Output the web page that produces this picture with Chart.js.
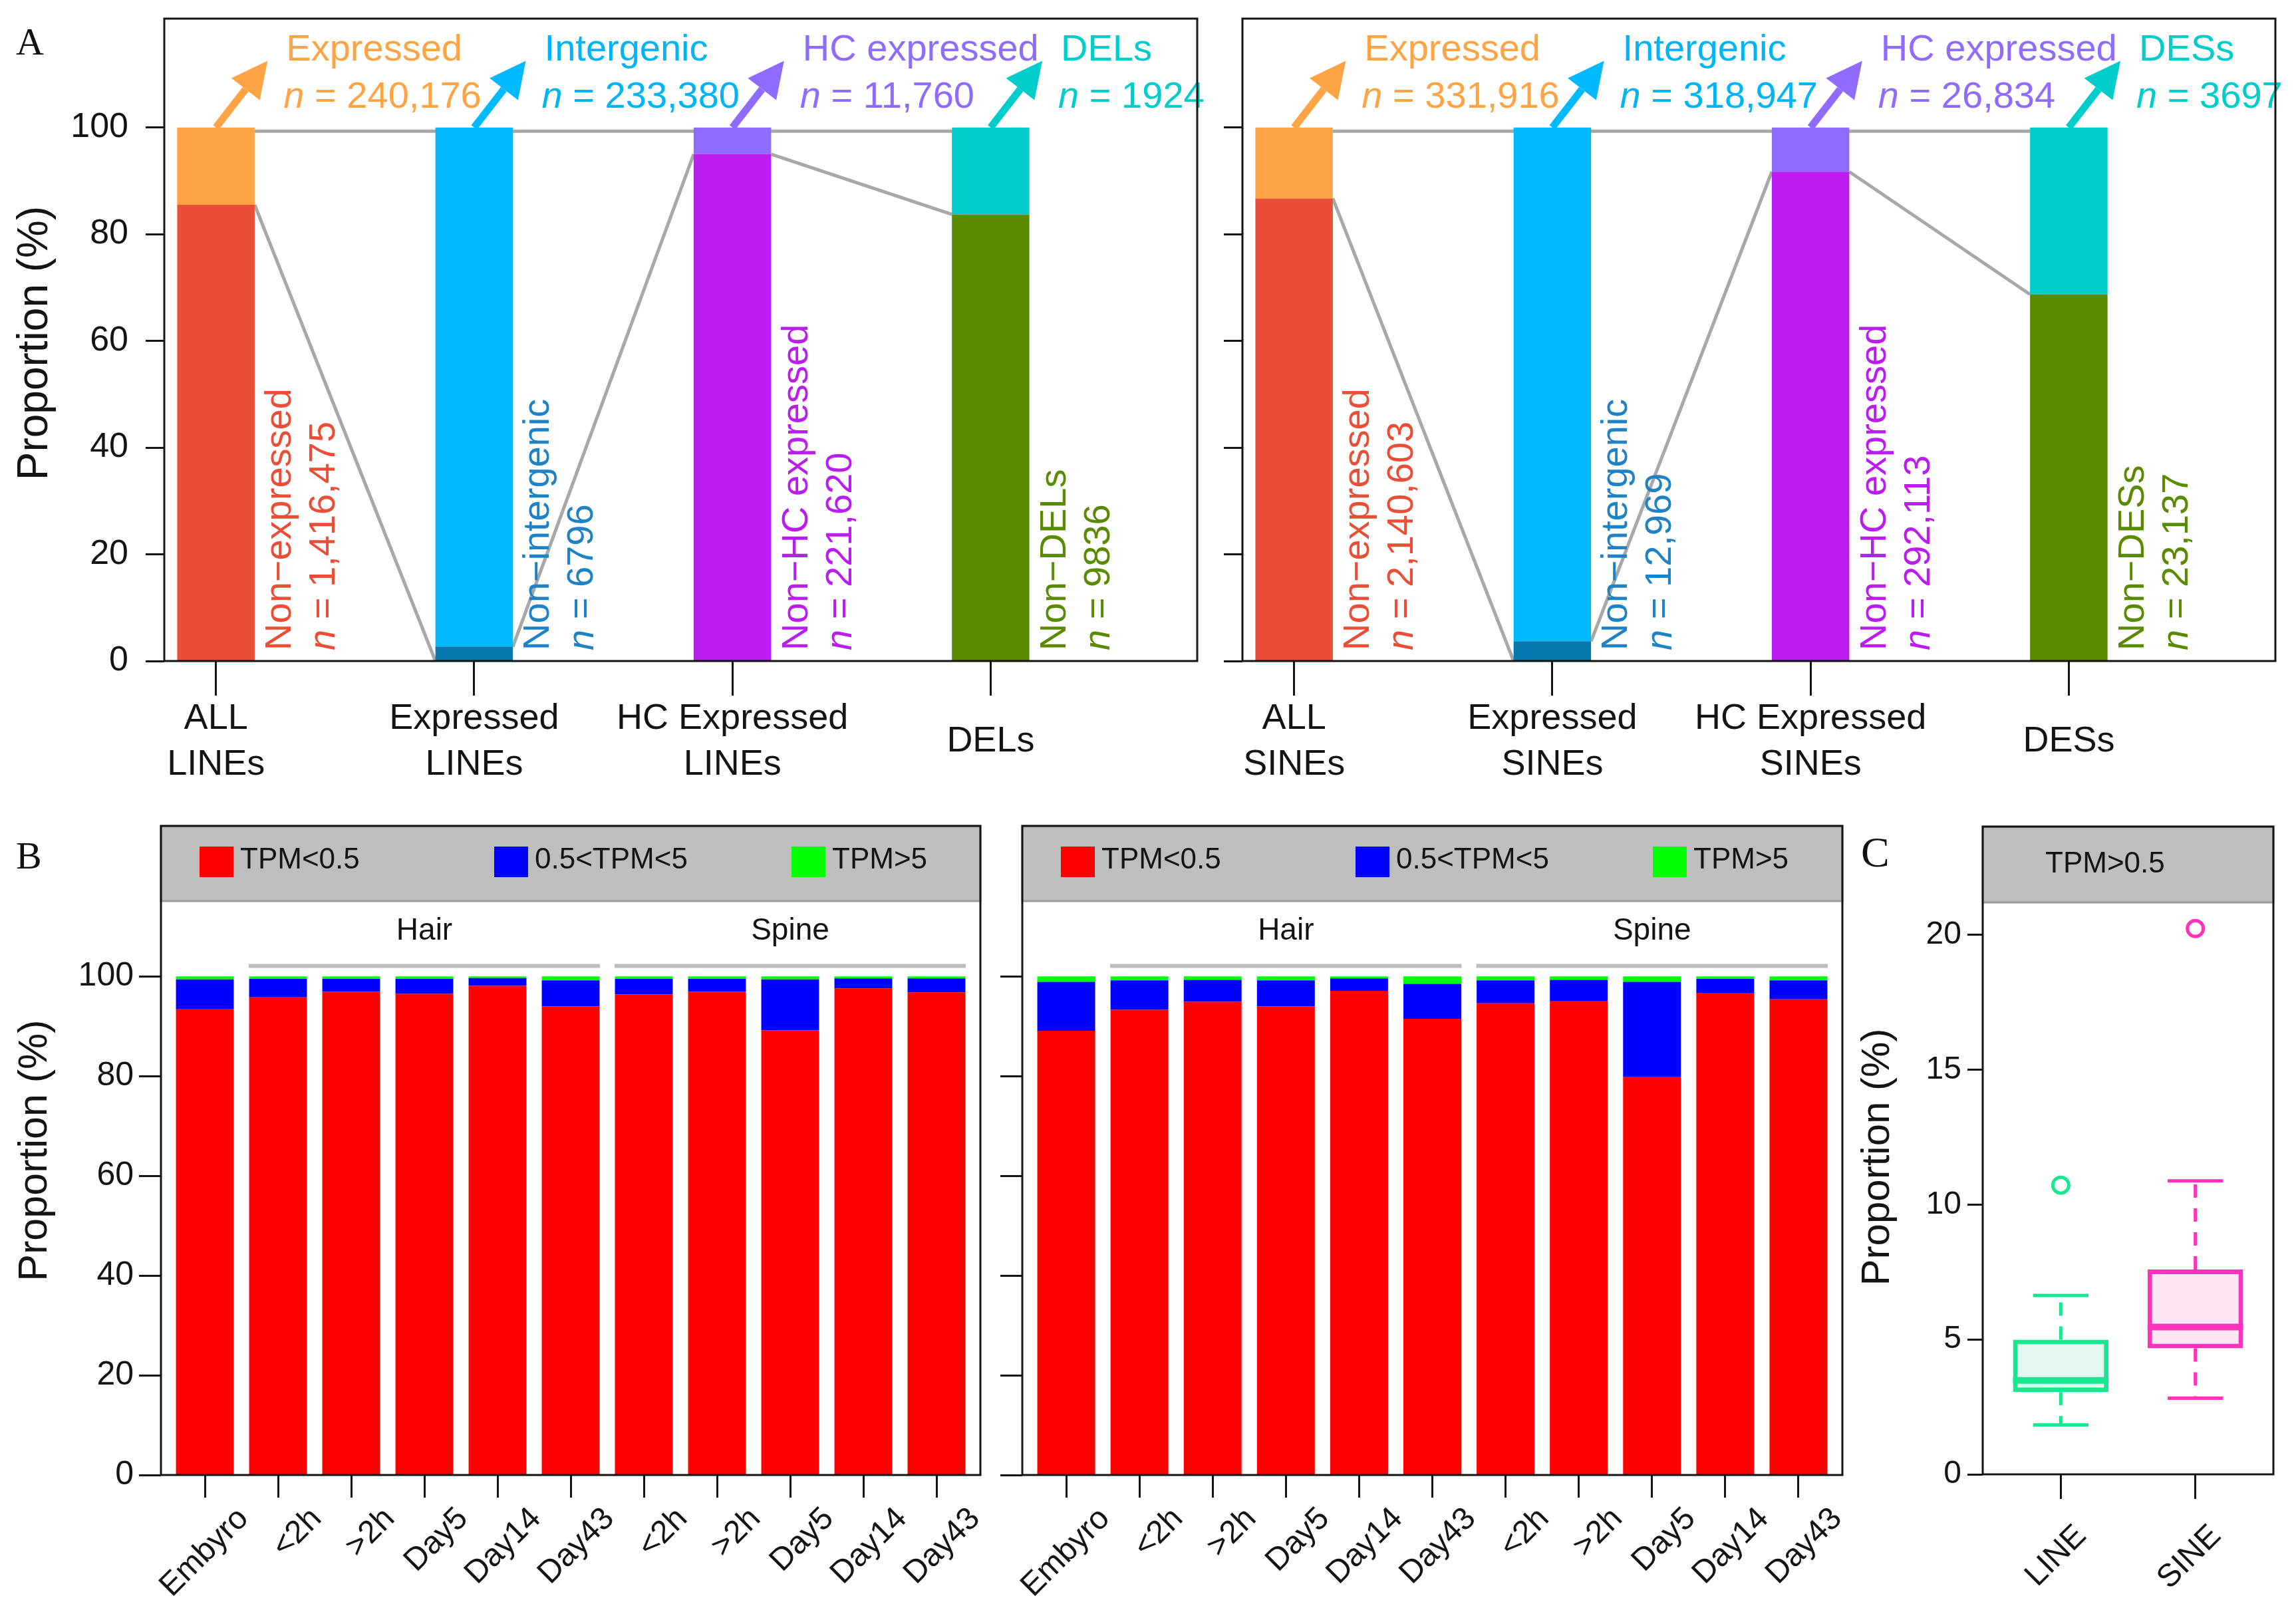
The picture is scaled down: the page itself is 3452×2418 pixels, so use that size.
<!DOCTYPE html>
<html>
<head>
<meta charset="utf-8">
<title>LINE / SINE expression</title>
<script src="https://cdn.jsdelivr.net/npm/chart.js@4.4.1/dist/chart.umd.min.js"></script>
<style>
  html, body { margin: 0; padding: 0; background: #fff; }
  body { width: 3452px; height: 2418px; position: relative; overflow: hidden; }
  canvas { position: absolute; }
  .tag { position: absolute; font-family: 'Liberation Serif', 'DejaVu Serif', serif; color: #111; line-height: 1; }
</style>
</head>
<body>
<canvas id="a-line" style="left:0;top:0" width="1830" height="1200"></canvas>
<canvas id="a-sine" style="left:1830px;top:0" width="1622" height="1200"></canvas>
<canvas id="b-line" style="left:0;top:1200px" width="1500" height="1218"></canvas>
<canvas id="b-sine" style="left:1500px;top:1200px" width="1330" height="1218"></canvas>
<canvas id="c-box" style="left:2780px;top:1200px" width="672" height="1218"></canvas>
<div class="tag" style="left:24px;top:34px;font-size:58px">A</div>
<div class="tag" style="left:24px;top:1258px;font-size:58px">B</div>
<div class="tag" style="left:2798px;top:1250px;font-size:64px">C</div>
<script>
// ---- Panel A : LINEs
const lineStages = [['ALL', 'LINEs'], ['Expressed', 'LINEs'], ['HC Expressed', 'LINEs'], ['DELs']];
const lineLowerPct = [85.5, 2.7, 95.0, 83.7];
const lineLinkTo = [0, 95.0, 83.7];
const lineUpperNames = ['Expressed', 'Intergenic', 'HC expressed', 'DELs'];
const lineUpperCounts = ['240,176', '233,380', '11,760', '1924'];
const lineLowerNames = ['Non−expressed', 'Non−intergenic', 'Non−HC expressed', 'Non−DELs'];
const lineLowerCounts = ['1,416,475', '6796', '221,620', '9836'];

// ---- Panel A : SINEs
const sineStages = [['ALL', 'SINEs'], ['Expressed', 'SINEs'], ['HC Expressed', 'SINEs'], ['DESs']];
const sineLowerPct = [86.7, 3.7, 91.7, 68.7];
const sineLinkTo = [0, 91.7, 68.7];
const sineUpperNames = ['Expressed', 'Intergenic', 'HC expressed', 'DESs'];
const sineUpperCounts = ['331,916', '318,947', '26,834', '3697'];
const sineLowerNames = ['Non−expressed', 'Non−intergenic', 'Non−HC expressed', 'Non−DESs'];
const sineLowerCounts = ['2,140,603', '12,969', '292,113', '23,137'];

const stageTicks = [0, 20, 40, 60, 80, 100];
const topLinkPct = 99.3;

// ---- Panel B : TPM classes per sample
const tpmSamples = ['Embyro', '<2h', '>2h', 'Day5', 'Day14', 'Day43', '<2h', '>2h', 'Day5', 'Day14', 'Day43'];
const tpmBins = ['TPM<0.5', '0.5<TPM<5', 'TPM>5'];
const tpmGroups = ['Hair', 'Spine'];
const tpmGroupSpan = [[1, 5], [6, 10]];
const lineTpmLow  = [93.4, 95.8, 96.9, 96.5, 98.1, 94.0, 96.4, 96.9, 89.2, 97.6, 96.8];
const lineTpmMid  = [6.0, 3.7, 2.6, 3.0, 1.55, 5.2, 3.1, 2.6, 10.2, 2.0, 2.8];
const lineTpmHigh = [0.6, 0.5, 0.5, 0.5, 0.35, 0.8, 0.5, 0.5, 0.6, 0.4, 0.4];
const sineTpmLow  = [89.1, 93.3, 94.9, 94.0, 97.1, 91.5, 94.6, 95.1, 79.8, 96.7, 95.4];
const sineTpmMid  = [9.8, 5.9, 4.4, 5.2, 2.5, 7.0, 4.6, 4.2, 19.1, 2.8, 3.8];
const sineTpmHigh = [1.1, 0.8, 0.7, 0.8, 0.4, 1.5, 0.8, 0.7, 1.1, 0.5, 0.8];

// ---- Panel C : TPM>0.5 proportion
const boxGroups = ['LINE', 'SINE'];
const boxLow    = [1.83, 2.82];
const boxQ1     = [3.05, 4.67];
const boxMedian = [3.48, 5.46];
const boxQ3     = [4.99, 7.59];
const boxHigh   = [6.63, 10.88];
const boxOutliers = [[10.72], [20.23]];
const boxTicks = [0, 5, 10, 15, 20];

// ---- styles
const FAMILY = "'Liberation Sans', Arial, Helvetica, sans-serif";
const INK = '#141414';
const LINK_GREY = '#a8a8a8';
const STRIP_FILL = '#bebebe';
const yTitle = 'Proportion (%)';
const stageLowerColors = ['#ea4e36', '#0779ae', '#bb1cf0', '#5a8a00'];
const stageUpperColors = ['#ffa444', '#00b9ff', '#8f6cff', '#00cccc'];
const stageUpperText = ['#ffa444', '#00b4f5', '#8f6cff', '#00cccc'];
const stageLowerText = ['#ea4e36', '#1e82c4', '#bb1cf0', '#5a8a00'];
const tpmColors = ['#ff0000', '#0000ff', '#00ff00'];
const boxEdge = ['#19e68f', '#ff33bb'];
const boxFill = ['#e3f9ef', '#ffe6f5'];

Chart.defaults.font.family = FAMILY;
Chart.defaults.color = INK;

function tickGrid(len) {
  return { offset: false, drawOnChartArea: false, drawTicks: true, tickLength: len, tickWidth: 3, tickColor: INK };
}
function fixWidth(w) {
  return s => { s.width = w; s.paddingTop = 0; s.paddingBottom = 0; };
}
function fixHeight(h) {
  return s => { s.height = h; s.paddingLeft = 0; s.paddingRight = 0; };
}
function tickAt(values) {
  return s => { s.ticks = values.map(v => ({ value: v })); };
}
function drawYTitle(ctx, t) {
  ctx.save();
  ctx.translate(t.x, t.y);
  ctx.rotate(-Math.PI / 2);
  ctx.font = `${t.size}px ${FAMILY}`;
  ctx.fillStyle = INK;
  ctx.textAlign = 'center';
  ctx.textBaseline = 'middle';
  ctx.fillText(yTitle, 0, 0);
  ctx.restore();
}
// "n = 1234" with an italic n
function drawCount(ctx, count, x, y, size) {
  ctx.font = `italic ${size}px ${FAMILY}`;
  ctx.fillText('n', x, y);
  const w = ctx.measureText('n').width;
  ctx.font = `${size}px ${FAMILY}`;
  ctx.fillText(' = ' + count, x + w, y);
}
function drawArrow(ctx, x0, y0, x1, y1, color) {
  const ang = Math.atan2(y1 - y0, x1 - x0);
  const head = 54, half = 27;
  const bx = x1 - head * Math.cos(ang), by = y1 - head * Math.sin(ang);
  ctx.strokeStyle = color;
  ctx.fillStyle = color;
  ctx.lineWidth = 11;
  ctx.beginPath();
  ctx.moveTo(x0, y0);
  ctx.lineTo(bx, by);
  ctx.stroke();
  ctx.beginPath();
  ctx.moveTo(x1, y1);
  ctx.lineTo(bx + half * Math.sin(ang), by - half * Math.cos(ang));
  ctx.lineTo(bx - half * Math.sin(ang), by + half * Math.cos(ang));
  ctx.closePath();
  ctx.fill();
}

// Panel A: gray links, arrows and text around the stacked bars
function stagePlugin(s) {
  return {
    id: 'stageDecor',
    beforeDatasetsDraw(chart) {
      const { ctx, scales: { x, y } } = chart;
      const half = chart.getDatasetMeta(0).data[0].width / 2;
      const n = s.lower.length;
      ctx.save();
      ctx.strokeStyle = LINK_GREY;
      ctx.lineWidth = 5;
      ctx.beginPath();
      ctx.moveTo(x.getPixelForValue(1) + half, y.getPixelForValue(topLinkPct));
      ctx.lineTo(x.getPixelForValue(n) - half, y.getPixelForValue(topLinkPct));
      s.linkTo.forEach((v, i) => {
        ctx.moveTo(x.getPixelForValue(i + 1) + half, y.getPixelForValue(s.lower[i]));
        ctx.lineTo(x.getPixelForValue(i + 2) - half, y.getPixelForValue(v));
      });
      ctx.stroke();
      ctx.restore();
    },
    afterDraw(chart) {
      const { ctx, chartArea: a, scales: { x, y } } = chart;
      ctx.save();
      s.lower.forEach((v, i) => {
        const cx = x.getPixelForValue(i + 1);
        drawArrow(ctx, cx, y.getPixelForValue(100), x.getPixelForValue(i + 1.2), y.getPixelForValue(112.5), stageUpperColors[i]);

        // label above
        ctx.fillStyle = stageUpperText[i];
        ctx.textAlign = 'left';
        ctx.textBaseline = 'alphabetic';
        const lx = x.getPixelForValue(i + 1.262);
        ctx.font = `56px ${FAMILY}`;
        ctx.fillText(s.upperNames[i], lx + 4, y.getPixelForValue(112.5));
        drawCount(ctx, s.upperCounts[i], lx, y.getPixelForValue(103.7), 56);

        // rotated label beside the bar
        ctx.fillStyle = stageLowerText[i];
        ctx.textBaseline = 'middle';
        [[s.lowerNames[i], 0.25], [null, 0.42]].forEach(([txt, off]) => {
          ctx.save();
          ctx.translate(x.getPixelForValue(i + 1 + off), y.getPixelForValue(2.0));
          ctx.rotate(-Math.PI / 2);
          if (txt) {
            ctx.font = `56px ${FAMILY}`;
            ctx.fillText(txt, 0, 0);
          } else {
            drawCount(ctx, s.lowerCounts[i], 0, 0, 56);
          }
          ctx.restore();
        });
      });
      ctx.strokeStyle = INK;
      ctx.lineWidth = 3;
      ctx.strokeRect(a.left, a.top, a.right - a.left, a.bottom - a.top);
      if (s.title) drawYTitle(ctx, s.title);
      ctx.restore();
    }
  };
}

function stageChart(id, s) {
  return new Chart(document.getElementById(id), {
    type: 'bar',
    data: {
      datasets: [
        { data: s.lower.map((v, i) => ({ x: i + 1, y: v })), backgroundColor: stageLowerColors },
        { data: s.lower.map((v, i) => ({ x: i + 1, y: 100 - v })), backgroundColor: stageUpperColors }
      ].map(d => Object.assign(d, { barPercentage: 0.3, categoryPercentage: 1, borderWidth: 0 }))
    },
    options: {
      responsive: false,
      animation: false,
      devicePixelRatio: 1,
      layout: { padding: { top: 28, right: s.padRight, left: 0, bottom: 0 } },
      plugins: { legend: { display: false }, tooltip: { enabled: false } },
      scales: {
        x: {
          type: 'linear', stacked: true, offset: false, min: 0.8, max: 4.8,
          afterBuildTicks: tickAt(s.stages.map((_, i) => i + 1)),
          afterFit: fixHeight(206),
          grid: tickGrid(52), border: { display: false },
          ticks: {
            autoSkip: false, maxRotation: 0, minRotation: 0, crossAlign: 'center',
            padding: 35, color: INK, font: { size: 54, lineHeight: 1.28 },
            callback: v => s.stages[Math.round(v) - 1]
          }
        },
        y: {
          stacked: true, min: 0, max: 120.4,
          afterBuildTicks: tickAt(stageTicks),
          afterFit: fixWidth(s.yWidth),
          grid: tickGrid(28), border: { display: false },
          ticks: { display: s.yLabels, padding: 26, color: INK, font: { size: 52 } }
        }
      }
    },
    plugins: [stagePlugin(s)]
  });
}

// Panel B: strip with legend, group bars, frame
function tpmPlugin(title) {
  const legendOffsets = [58, 501, 948];
  return {
    id: 'tpmDecor',
    afterDraw(chart) {
      const { ctx, chartArea: a, scales: { x, y } } = chart;
      const stripTop = a.top - 113;
      ctx.save();
      ctx.fillStyle = STRIP_FILL;
      ctx.fillRect(a.left, stripTop, a.right - a.left, a.top - stripTop);
      ctx.strokeStyle = '#9c9c9c';
      ctx.lineWidth = 3;
      ctx.strokeRect(a.left, stripTop, a.right - a.left, a.top - stripTop);

      ctx.textAlign = 'left';
      ctx.textBaseline = 'middle';
      chart.data.datasets.forEach((ds, k) => {
        const lx = a.left + legendOffsets[k];
        ctx.fillStyle = ds.backgroundColor;
        ctx.fillRect(lx, stripTop + 31, 51, 46);
        ctx.fillStyle = INK;
        ctx.font = `44px ${FAMILY}`;
        ctx.fillText(ds.label, lx + 61, stripTop + 52);
      });

      tpmGroups.forEach((g, k) => {
        const [i0, i1] = tpmGroupSpan[k];
        const yl = y.getPixelForValue(102.1);
        ctx.strokeStyle = '#bdbdbd';
        ctx.lineWidth = 6;
        ctx.beginPath();
        ctx.moveTo(x.getPixelForValue(i0 - 0.4), yl);
        ctx.lineTo(x.getPixelForValue(i1 + 0.4), yl);
        ctx.stroke();
        ctx.fillStyle = INK;
        ctx.textAlign = 'center';
        ctx.font = `46px ${FAMILY}`;
        ctx.fillText(g, x.getPixelForValue((i0 + i1) / 2), y.getPixelForValue(109.1));
      });

      ctx.strokeStyle = INK;
      ctx.lineWidth = 3;
      ctx.strokeRect(a.left, stripTop, a.right - a.left, a.bottom - stripTop);
      if (title) drawYTitle(ctx, title);
      ctx.restore();
    }
  };
}

function tpmChart(id, s) {
  return new Chart(document.getElementById(id), {
    type: 'bar',
    data: {
      datasets: s.values.map((vals, k) => ({
        label: tpmBins[k],
        data: vals.map((v, i) => ({ x: i, y: v })),
        backgroundColor: tpmColors[k],
        barPercentage: 0.79, categoryPercentage: 1, borderWidth: 0
      }))
    },
    options: {
      responsive: false,
      animation: false,
      devicePixelRatio: 1,
      layout: { padding: { top: 155, right: s.padRight, left: 0, bottom: 0 } },
      plugins: { legend: { display: false }, tooltip: { enabled: false } },
      scales: {
        x: {
          type: 'linear', stacked: true, offset: false, min: -0.6, max: tpmSamples.length - 0.4,
          afterBuildTicks: tickAt(tpmSamples.map((_, i) => i)),
          afterFit: fixHeight(200),
          grid: tickGrid(34), border: { display: false },
          ticks: {
            autoSkip: false, maxRotation: 45, minRotation: 45, labelOffset: 58,
            padding: 4, color: INK, font: { size: 48 },
            callback: v => tpmSamples[Math.round(v)]
          }
        },
        y: {
          stacked: true, min: 0, max: 115.1,
          afterBuildTicks: tickAt(stageTicks),
          afterFit: fixWidth(s.yWidth),
          grid: tickGrid(33), border: { display: false },
          ticks: { display: s.yLabels, padding: 8, color: INK, font: { size: 50 } }
        }
      }
    },
    plugins: [tpmPlugin(s.title)]
  });
}

// Panel C: strip, whiskers, medians, frame
const boxPlugin = {
  id: 'boxDecor',
  afterDatasetsDraw(chart) {
    const { ctx, scales: { x, y } } = chart;
    const boxes = chart.getDatasetMeta(0).data;
    ctx.save();
    boxGroups.forEach((g, i) => {
      const cx = x.getPixelForValue(i + 1);
      const hw = boxes[i].width / 2;
      const cap = hw * 0.58;
      ctx.strokeStyle = boxEdge[i];
      ctx.lineWidth = 5;
      ctx.setLineDash([20, 16]);
      ctx.beginPath();
      ctx.moveTo(cx, y.getPixelForValue(boxQ3[i]));
      ctx.lineTo(cx, y.getPixelForValue(boxHigh[i]));
      ctx.moveTo(cx, y.getPixelForValue(boxQ1[i]));
      ctx.lineTo(cx, y.getPixelForValue(boxLow[i]));
      ctx.stroke();
      ctx.setLineDash([]);
      ctx.beginPath();
      ctx.moveTo(cx - cap, y.getPixelForValue(boxHigh[i]));
      ctx.lineTo(cx + cap, y.getPixelForValue(boxHigh[i]));
      ctx.moveTo(cx - cap, y.getPixelForValue(boxLow[i]));
      ctx.lineTo(cx + cap, y.getPixelForValue(boxLow[i]));
      ctx.stroke();
      ctx.lineWidth = 10;
      ctx.beginPath();
      ctx.moveTo(cx - hw, y.getPixelForValue(boxMedian[i]));
      ctx.lineTo(cx + hw, y.getPixelForValue(boxMedian[i]));
      ctx.stroke();
    });
    ctx.restore();
  },
  afterDraw(chart) {
    const { ctx, chartArea: a } = chart;
    const stripTop = a.top - 114;
    ctx.save();
    ctx.fillStyle = STRIP_FILL;
    ctx.fillRect(a.left, stripTop, a.right - a.left, a.top - stripTop);
    ctx.strokeStyle = '#9c9c9c';
    ctx.lineWidth = 3;
    ctx.strokeRect(a.left, stripTop, a.right - a.left, a.top - stripTop);
    ctx.fillStyle = INK;
    ctx.font = `44px ${FAMILY}`;
    ctx.textAlign = 'left';
    ctx.textBaseline = 'middle';
    ctx.fillText('TPM>0.5', a.left + 94, stripTop + 57);
    ctx.strokeStyle = INK;
    ctx.strokeRect(a.left, stripTop, a.right - a.left, a.bottom - stripTop);
    drawYTitle(ctx, { x: 43, y: 540, size: 60 });
    ctx.restore();
  }
};

stageChart('a-line', {
  stages: lineStages, lower: lineLowerPct, linkTo: lineLinkTo,
  upperNames: lineUpperNames, upperCounts: lineUpperCounts,
  lowerNames: lineLowerNames, lowerCounts: lineLowerCounts,
  yWidth: 247, yLabels: true, padRight: 30, title: { x: 53, y: 516, size: 64 }
});
stageChart('a-sine', {
  stages: sineStages, lower: sineLowerPct, linkTo: sineLinkTo,
  upperNames: sineUpperNames, upperCounts: sineUpperCounts,
  lowerNames: sineLowerNames, lowerCounts: sineLowerCounts,
  yWidth: 38, yLabels: false, padRight: 31, title: null
});
tpmChart('b-line', {
  values: [lineTpmLow, lineTpmMid, lineTpmHigh],
  yWidth: 242, yLabels: true, padRight: 26, title: { x: 53, y: 530, size: 61 }
});
tpmChart('b-sine', {
  values: [sineTpmLow, sineTpmMid, sineTpmHigh],
  yWidth: 37, yLabels: false, padRight: 60, title: null
});

new Chart(document.getElementById('c-box'), {
  data: {
    datasets: [
      {
        type: 'bar',
        data: boxGroups.map((g, i) => ({ x: i + 1, y: [boxQ1[i], boxQ3[i]] })),
        backgroundColor: boxFill, borderColor: boxEdge, borderWidth: 7, borderSkipped: false,
        barPercentage: 0.71, categoryPercentage: 1
      },
      {
        type: 'scatter',
        data: boxOutliers.flatMap((vals, i) => vals.map(v => ({ x: i + 1, y: v }))),
        pointRadius: 12, pointBorderWidth: 5,
        pointBackgroundColor: 'rgba(0,0,0,0)',
        pointBorderColor: boxOutliers.flatMap((vals, i) => vals.map(() => boxEdge[i]))
      }
    ]
  },
  options: {
    responsive: false,
    animation: false,
    devicePixelRatio: 1,
    layout: { padding: { top: 157, right: 34, left: 0, bottom: 0 } },
    plugins: { legend: { display: false }, tooltip: { enabled: false } },
    scales: {
      x: {
        type: 'linear', offset: false, min: 0.42, max: 2.58,
        afterBuildTicks: tickAt(boxGroups.map((_, i) => i + 1)),
        afterFit: fixHeight(201),
        grid: tickGrid(37), border: { display: false },
        ticks: {
          autoSkip: false, maxRotation: 45, minRotation: 45, labelOffset: 31,
          padding: 28, color: INK, font: { size: 48 },
          callback: v => boxGroups[Math.round(v) - 1]
        }
      },
      y: {
        min: 0, max: 21.2,
        afterBuildTicks: tickAt(boxTicks),
        afterFit: fixWidth(201),
        grid: tickGrid(23), border: { display: false },
        ticks: { padding: 9, color: INK, font: { size: 48 } }
      }
    }
  },
  plugins: [boxPlugin]
});
</script>
</body>
</html>
